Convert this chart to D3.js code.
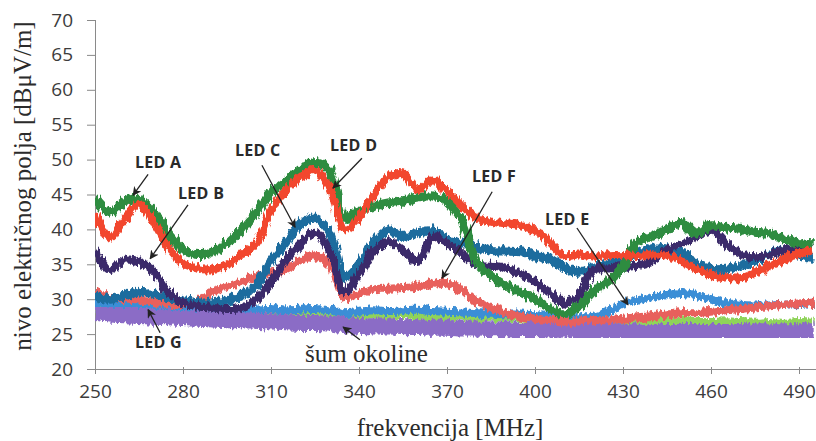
<!DOCTYPE html>
<html>
<head>
<meta charset="utf-8">
<script src="https://cdn.jsdelivr.net/npm/d3@7"></script>
<style>
  body { margin: 0; background: #fff; }
  .axis path, .axis line { stroke: #8a8a8a; }
  .axis text { font-family: "Open Sans", sans-serif; font-size: 19px; fill: #3c3c3c; }
  .lbl { font-family: "Open Sans", sans-serif; font-weight: bold; font-size: 16px; fill: #2a2a2a; letter-spacing: 0.3px; }
  .ttl { font-family: "Liberation Serif", "DejaVu Serif", serif; fill: #2b2b2b; }
</style>
</head>
<body>
<svg id="chart" width="816" height="441"></svg>
<script>
// frequency sweep, one reading every 5 MHz
var freq = [250,255,260,265,270,275,280,285,290,295,300,305,310,315,320,325,330,335,340,345,
            350,355,360,365,370,375,380,385,390,395,400,405,410,415,420,425,430,435,440,445,
            450,455,460,465,470,475,480,485,490,495];

var ledA = [44.5,42.5,44,44.3,42.5,39.3,37.2,36.4,36.8,38,40,42.5,45.2,47,48.5,49.6,48.5,41.8,42.6,43.3,
            43.8,44.1,44.5,44.8,44,41.2,35.5,33.3,32,31,30,28.7,27.9,29,31.2,32.6,34.5,38.3,39,40,
            41,39.5,40.5,40.2,40,39.6,39.4,38.6,38,37.8];
var ledB = [37,34.2,35.6,35.4,34,31,29.5,29,28.8,28.6,28.8,30,32.5,35.5,38,39.5,37,31,33.5,37,
            38.2,37,35.5,39,38,36.5,35,34.8,34.5,33.6,32.5,30.8,29.5,30.5,34.2,34.4,34.6,34.8,35.5,37,
            37.9,39,39.8,38,36.5,36,36.4,37,37.2,37];
var ledC = [30.3,30,30.5,31,30.8,30.2,29.8,29.5,29.5,29.8,30.5,32,35.5,38,40.8,41.6,39.5,33.2,35,38,
            39.8,39,39.5,39.8,38.6,38,37.5,37,36.9,36.8,36.3,35.8,34.5,34,34.5,35,35.5,36.5,37.3,37.2,
            36.5,35,34.3,34.3,34.8,35.4,36.5,36.9,36.3,36];
var ledD = [42.3,38.8,41.5,43.5,41,37.5,35.2,34.4,34.3,34.9,36.4,38,42.8,45.5,47.5,48.5,46,40,41.8,45,
            47.5,48,45.7,47,45.5,43.5,41.7,41.1,40.9,40.6,39.8,38.2,36.2,36.4,36.1,36.3,36.3,36.2,36.4,36.2,
            35.5,34.3,33.5,33.1,33,33.8,34.8,35.8,36.5,37];
var ledE = [29.5,29.2,29,29.2,29,28.8,28.7,28.6,28.5,28.4,28.4,28.5,28.6,28.4,28.5,28.6,28.4,28,28.2,28.4,
            28.3,28.4,28.5,28.3,28.2,28.1,28,27.9,27.8,27.8,27.7,27.6,27.5,27.4,27.5,28.2,29.3,29.8,30.3,30.6,
            30.9,30.6,30,29.5,29.2,29.1,29.1,29.2,29.3,29.5];
var ledF = [31.2,30.2,30,29.8,29.6,29.4,29.3,29.8,31,31.8,32.5,33.3,33.8,34.3,35.5,36.3,35,30.3,30.8,31.4,
            31.5,31.6,31.8,32.2,32.3,31.3,29.7,28.8,28,27.5,27.2,27,26.8,26.8,27,27,27.2,27.4,27.6,27.8,
            28,28,28.2,28.4,28.6,28.8,29,29.2,29.4,29.5];
var ledG = [28.6,28.4,28.2,28.3,28.1,28,28,27.9,28,28.1,28.2,28,28.3,28.1,28,28.2,28,27.6,27.8,27.7,
            27.6,27.8,27.6,27.5,27.4,27.5,27.3,27.4,27.3,27.3,27.2,27.2,27.1,27,27.1,27,26.9,27,26.9,26.8,
            26.9,26.8,26.8,26.9,26.8,26.7,26.8,26.7,26.8,26.7];
var noise = [28,27.8,27.7,27.6,27.5,27.4,27.3,27.2,27.1,27,27,26.9,26.8,26.7,26.6,26.6,26.5,26.3,26.2,26.1,
             26.1,26,26,25.9,25.9,25.8,25.8,25.7,25.7,25.6,25.6,25.5,25.5,25.5,25.4,25.4,25.4,25.4,25.3,25.3,
             25.3,25.3,25.3,25.3,25.3,25.4,25.4,25.4,25.4,25.4];

var xTicks = [250,280,310,340,370,400,430,460,490];
var yTicks = [20,25,30,35,40,45,50,55,60,65,70];

// drawing order: bottom first
var series = [
  {name: "LED G", vals: ledG, color: "#8fd35a", w: 7},
  {name: "LED E", vals: ledE, color: "#3b8ed6", w: 8},
  {name: "šum okoline", vals: noise, color: "#8b6cc6", w: 16},
  {name: "LED F", vals: ledF, color: "#e8605c", w: 8},
  {name: "LED C", vals: ledC, color: "#1d6c9e", w: 9},
  {name: "LED B", vals: ledB, color: "#3a2a6a", w: 8},
  {name: "LED A", vals: ledA, color: "#2e8c40", w: 9},
  {name: "LED D", vals: ledD, color: "#f2462f", w: 8}
];

// callouts: text position, arrow from -> to (in data units)
var notes = [
  {t: "LED A", tx: 263.6, ty: 48.8, x1: 268.1, y1: 47.9, x2: 263, y2: 44.9},
  {t: "LED B", tx: 278.3, ty: 44.4, x1: 281.7, y1: 43.5, x2: 268.8, y2: 35.8},
  {t: "LED C", tx: 297.7, ty: 50.5, x1: 306.9, y1: 49.2, x2: 318.2, y2: 40.3},
  {t: "LED D", tx: 330.1, ty: 51.3, x1: 341, y1: 50.2, x2: 331.1, y2: 45.9},
  {t: "LED F", tx: 378.5, ty: 46.8, x1: 385.4, y1: 45.4, x2: 368.3, y2: 33},
  {t: "LED E", tx: 403.4, ty: 40.6, x1: 414.3, y1: 40.2, x2: 431.7, y2: 29.2},
  {t: "LED G", tx: 263.6, ty: 23, x1: 272.2, y1: 25.2, x2: 268.1, y2: 28.5}
];

var svg = d3.select("#chart");

var x = d3.scaleLinear().domain([250, 490]).range([95, 799]);
var y = d3.scaleLinear().domain([20, 70]).range([369, 20]);

var defs = svg.append("defs");
defs.append("clipPath").attr("id", "clip")
  .append("rect").attr("x", 95).attr("y", 10).attr("width", 721).attr("height", 359);

// rough edges so the traces look like measured data
var f = defs.append("filter").attr("id", "rough")
  .attr("x", "-2%").attr("y", "-30%").attr("width", "104%").attr("height", "160%");
f.append("feTurbulence").attr("type", "fractalNoise").attr("baseFrequency", "0.4 0.07")
  .attr("numOctaves", 2).attr("seed", 3).attr("result", "n");
f.append("feDisplacementMap").attr("in", "SourceGraphic").attr("in2", "n")
  .attr("scale", 9).attr("xChannelSelector", "R").attr("yChannelSelector", "G");

marker("arr");

// axes
var xAxis = d3.axisBottom(x).tickValues(xTicks).tickSize(0).tickPadding(16);
var yAxis = d3.axisLeft(y).tickValues(yTicks).tickSize(8).tickPadding(14);

var gx = svg.append("g").attr("class", "x axis")
  .attr("transform", "translate(0,369)").call(xAxis);
gx.select(".domain").attr("d", "M95,0.5H816");
gx.selectAll(".tick line").attr("y1", -2).attr("y2", 5);

var gy = svg.append("g").attr("class", "y axis")
  .attr("transform", "translate(95,0)").call(yAxis);
gy.select(".domain").attr("d", "M0.5,20V369");

// lines
var line = d3.line()
  .x(function(d, i){ return x(freq[i]); })
  .y(function(d){ return y(d); })
  .curve(d3.curveCatmullRom);

var plot = svg.append("g").attr("clip-path", "url(#clip)");
plot.selectAll(".trace")
  .data(series)
  .enter().append("path")
  .attr("class", "trace")
  .attr("d", function(d){ return line(d.vals); })
  .attr("fill", "none")
  .attr("stroke", function(d){ return d.color; })
  .attr("stroke-width", function(d){ return d.w; })
  .attr("stroke-linejoin", "round")
  .attr("filter", "url(#rough)");

// callouts
notes.forEach(function(n){
  svg.append("text").attr("class", "lbl")
    .attr("x", x(n.tx)).attr("y", y(n.ty))
    .text(n.t);
  arrow(n.x1, n.y1, n.x2, n.y2);
});

svg.append("text").attr("class", "ttl")
  .attr("x", x(321.6)).attr("y", y(21))
  .style("font-size", "25px")
  .text("šum okoline");
arrow(340.3, 24.2, 334.6, 26);

// titles
svg.append("text").attr("class", "ttl")
  .attr("x", 450).attr("y", 436)
  .attr("text-anchor", "middle")
  .style("font-size", "25px")
  .text("frekvencija [MHz]");

svg.append("text").attr("class", "ttl")
  .attr("transform", "translate(31,186) rotate(-90)")
  .attr("text-anchor", "middle")
  .style("font-size", "25px")
  .text("nivo električnog polja [dBμV/m]");

function arrow(x1, y1, x2, y2){
  svg.append("line")
    .attr("x1", x(x1)).attr("y1", y(y1))
    .attr("x2", x(x2)).attr("y2", y(y2))
    .attr("stroke", "#222").attr("stroke-width", 1.3)
    .attr("marker-end", "url(#arr)");
}

function marker(id){
  defs.append("marker").attr("id", id)
    .attr("viewBox", "0 0 10 10").attr("refX", 9).attr("refY", 5)
    .attr("markerWidth", 7).attr("markerHeight", 7)
    .attr("orient", "auto")
    .append("path").attr("d", "M0,0L10,5L0,10L3,5Z").attr("fill", "#222");
}
</script>
</body>
</html>
